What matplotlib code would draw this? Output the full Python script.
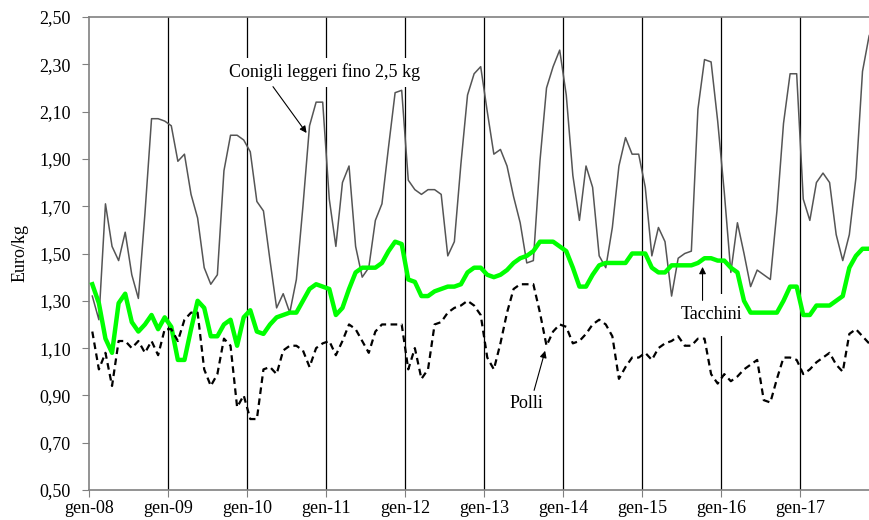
import numpy as np
import matplotlib.pyplot as plt

# --- data (Euro/kg, monthly gen-08 .. dic-17) ---
years = ['08', '09', '10', '11', '12', '13', '14', '15', '16', '17']

conigli = [
    1.32, 1.22, 1.71, 1.53, 1.47, 1.59, 1.41, 1.31, 1.67, 2.07, 2.07, 2.06,
    2.04, 1.89, 1.92, 1.75, 1.65, 1.44, 1.37, 1.41, 1.85, 2.00, 2.00, 1.98,
    1.93, 1.72, 1.68, 1.47, 1.27, 1.33, 1.25, 1.39, 1.70, 2.04, 2.14, 2.14,
    1.73, 1.53, 1.80, 1.87, 1.53, 1.40, 1.44, 1.64, 1.71, 1.95, 2.18, 2.19,
    1.81, 1.77, 1.75, 1.77, 1.77, 1.75, 1.49, 1.55, 1.88, 2.17, 2.26, 2.29,
    2.10, 1.92, 1.94, 1.87, 1.74, 1.63, 1.46, 1.47, 1.89, 2.20, 2.29, 2.36,
    2.17, 1.83, 1.64, 1.87, 1.78, 1.49, 1.44, 1.61, 1.87, 1.99, 1.92, 1.92,
    1.78, 1.49, 1.61, 1.55, 1.32, 1.48, 1.50, 1.51, 2.11, 2.32, 2.31, 2.06,
    1.76, 1.42, 1.63, 1.50, 1.36, 1.43, 1.41, 1.39, 1.68, 2.05, 2.26, 2.26,
    1.73, 1.64, 1.80, 1.84, 1.80, 1.58, 1.47, 1.58, 1.82, 2.27, 2.42, 2.48,
]

tacchini = [
    1.37, 1.29, 1.14, 1.08, 1.29, 1.33, 1.21, 1.17, 1.20, 1.24, 1.18, 1.23,
    1.19, 1.05, 1.05, 1.18, 1.30, 1.27, 1.15, 1.15, 1.20, 1.22, 1.11, 1.23,
    1.26, 1.17, 1.16, 1.20, 1.23, 1.24, 1.25, 1.25, 1.30, 1.35, 1.37, 1.36,
    1.35, 1.24, 1.27, 1.35, 1.42, 1.44, 1.44, 1.44, 1.46, 1.51, 1.55, 1.54,
    1.39, 1.38, 1.32, 1.32, 1.34, 1.35, 1.36, 1.36, 1.37, 1.42, 1.44, 1.44,
    1.41, 1.40, 1.41, 1.43, 1.46, 1.48, 1.49, 1.51, 1.55, 1.55, 1.55, 1.53,
    1.51, 1.44, 1.36, 1.36, 1.41, 1.45, 1.46, 1.46, 1.46, 1.46, 1.50, 1.50,
    1.50, 1.44, 1.42, 1.42, 1.45, 1.45, 1.45, 1.45, 1.46, 1.48, 1.48, 1.47,
    1.47, 1.44, 1.42, 1.30, 1.25, 1.25, 1.25, 1.25, 1.25, 1.30, 1.36, 1.36,
    1.24, 1.24, 1.28, 1.28, 1.28, 1.30, 1.32, 1.44, 1.49, 1.52, 1.52, 1.53,
]

polli = [
    1.17, 1.01, 1.08, 0.94, 1.13, 1.13, 1.10, 1.13, 1.08, 1.13, 1.07, 1.18,
    1.18, 1.13, 1.22, 1.25, 1.25, 1.01, 0.94, 0.99, 1.14, 1.11, 0.85, 0.90,
    0.80, 0.80, 1.01, 1.02, 0.99, 1.09, 1.11, 1.11, 1.09, 1.02, 1.10, 1.12,
    1.13, 1.07, 1.13, 1.20, 1.18, 1.13, 1.08, 1.17, 1.20, 1.20, 1.20, 1.20,
    1.01, 1.10, 0.97, 1.01, 1.20, 1.21, 1.25, 1.27, 1.28, 1.30, 1.28, 1.24,
    1.06, 1.01, 1.12, 1.25, 1.35, 1.37, 1.37, 1.37, 1.25, 1.11, 1.17, 1.20,
    1.19, 1.12, 1.13, 1.16, 1.20, 1.22, 1.20, 1.15, 0.97, 1.02, 1.06, 1.06,
    1.08, 1.05, 1.10, 1.12, 1.13, 1.15, 1.11, 1.11, 1.14, 1.14, 0.99, 0.95,
    0.99, 0.96, 0.98, 1.01, 1.03, 1.05, 0.88, 0.87, 0.97, 1.06, 1.06, 1.05,
    0.99, 1.01, 1.04, 1.06, 1.08, 1.03, 1.00, 1.16, 1.18, 1.15, 1.12, 1.11,
]

y_ticks = np.arange(0.5, 2.51, 0.2)
x_labels = ['gen-' + y for y in years]

# --- plot ---
plt.rcParams['font.family'] = ['Liberation Serif', 'DejaVu Serif']

fig = plt.figure(figsize=(8.7, 5.2), dpi=100)
# plot area is cut off at the right edge, like the original
ax = fig.add_axes([89 / 870, 30 / 520, 781 / 870, 473 / 520])

months = np.arange(len(conigli)) + 0.5  # points sit between month ticks

# vertical lines at each January
for k in range(1, len(years)):
    ax.axvline(12 * k, color='black', lw=0.9, zorder=1)

ax.plot(months, conigli, color='#555555', lw=1.1, zorder=4)
ax.plot(months, tacchini, color='#00ff00', lw=3.2, zorder=4,
        solid_joinstyle='round')
ax.plot(months, polli, color='black', lw=1.6, dashes=(3, 2), zorder=4)

ax.set_xlim(0, 781 / 6.583)
ax.set_ylim(0.5, 2.5)
ax.set_yticks(y_ticks)
ax.set_yticklabels([f'{v:.2f}'.replace('.', ',') for v in y_ticks])
ax.set_xticks(np.arange(0, 12 * len(years), 12))
ax.set_xticklabels(x_labels)
ax.tick_params(axis='both', labelsize=13, length=5, color='#808080',
               direction='out')
ax.tick_params(axis='y', pad=8)
ax.tick_params(axis='x', pad=2)

ax.set_ylabel('Euro/kg', fontsize=13, labelpad=8)

for side in ['left', 'bottom', 'top']:
    ax.spines[side].set_color('#808080')
    ax.spines[side].set_linewidth(1.2)
ax.spines['right'].set_visible(False)

# --- labels with arrows ---
box = dict(facecolor='white', edgecolor='none', pad=4)
arrow = dict(arrowstyle='-|>', color='black', lw=0.8, mutation_scale=10)

ax.text(21.2, 2.267, 'Conigli leggeri fino 2,5 kg', fontsize=13,
        ha='left', va='center', bbox=box, zorder=2)
ax.annotate('', xy=(33.3, 2.0), xytext=(27.7, 2.215), arrowprops=arrow,
            zorder=5)

ax.text(66.5, 0.864, 'Polli', fontsize=13, ha='center', va='center',
        bbox=box, zorder=2)
ax.annotate('', xy=(69.4, 1.10), xytext=(67.5, 0.91), arrowprops=arrow,
            zorder=5)

ax.text(94.5, 1.24, 'Tacchini', fontsize=13, ha='center', va='center',
        bbox=dict(facecolor='white', edgecolor='none', pad=9), zorder=2)
ax.annotate('', xy=(93.2, 1.455), xytext=(93.2, 1.29), arrowprops=arrow,
            zorder=5)

fig.savefig('out.png', dpi=100)
